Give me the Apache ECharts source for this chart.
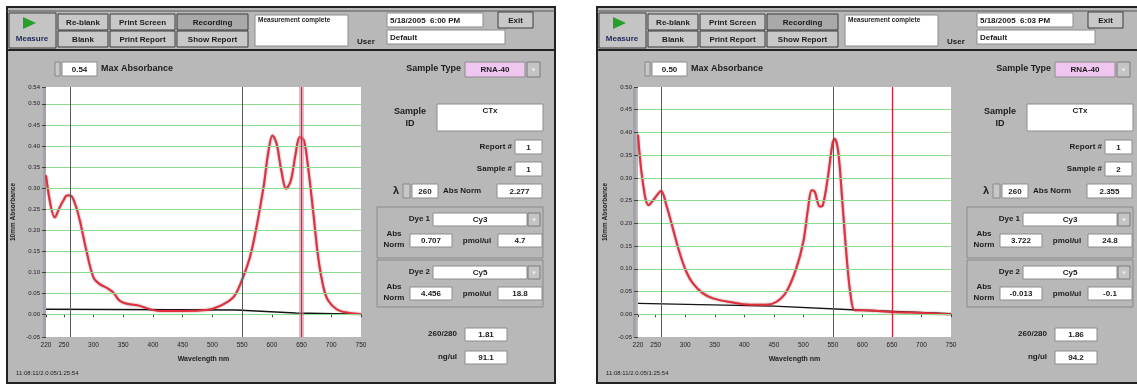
<!DOCTYPE html>
<html>
<head>
<meta charset="utf-8">
<script src="https://cdn.jsdelivr.net/npm/echarts@6/dist/echarts.min.js"></script>
<style>
  html, body { margin: 0; padding: 0; background: #fff; }
  #chart { width: 1137px; height: 384px; }
</style>
</head>
<body>
<div id="chart"></div>
<script>
// spectrum 1 (Cy5 sample)
const wl1 = [220, 235, 243, 250, 255, 261, 269, 277, 288, 300, 311, 322, 333, 344, 356, 378, 395, 412, 451, 490,
  513, 535, 549, 563, 574, 586, 594, 601, 608, 616, 624, 632, 640, 647, 654, 661, 670, 678, 687, 695, 709, 726, 750];
const abs1 = [0.330, 0.230, 0.254, 0.272, 0.282, 0.282, 0.262, 0.222, 0.151, 0.087, 0.071, 0.063, 0.052, 0.032, 0.025, 0.020, 0.012, 0.008, 0.008, 0.010,
  0.020, 0.040, 0.079, 0.135, 0.206, 0.302, 0.385, 0.425, 0.405, 0.341, 0.298, 0.318, 0.381, 0.421, 0.413, 0.349, 0.238, 0.135, 0.063, 0.032, 0.012, 0.004, 0.000];
const baseWl1 = [220, 540, 640, 750];
const baseAbs1 = [0.012, 0.010, 0.003, 0.000];

// spectrum 2 (Cy3 sample)
const wl2 = [220, 228, 238, 248, 259, 268, 279, 290, 302, 313, 330, 347, 375, 409, 437, 454, 471, 488, 500, 508,
  514, 519, 528, 533, 542, 549, 553, 559, 566, 573, 580, 587, 601, 652, 703, 750];
const abs2 = [0.395, 0.292, 0.240, 0.255, 0.271, 0.240, 0.189, 0.137, 0.093, 0.068, 0.046, 0.035, 0.027, 0.021, 0.021, 0.027, 0.049, 0.101, 0.160, 0.233,
  0.273, 0.270, 0.237, 0.240, 0.306, 0.373, 0.386, 0.358, 0.248, 0.130, 0.042, 0.009, 0.009, 0.005, 0.003, 0.000];
const baseWl2 = [220, 450, 600, 750];
const baseAbs2 = [0.024, 0.018, 0.009, 0.001];

// axes
const xTicks = [220, 250, 300, 350, 400, 450, 500, 550, 600, 650, 700, 750];
const yTicks1 = [-0.054, 0, 0.05, 0.10, 0.15, 0.20, 0.25, 0.30, 0.35, 0.40, 0.45, 0.50, 0.54];
const yTicks2 = [-0.05, 0, 0.05, 0.10, 0.15, 0.20, 0.25, 0.30, 0.35, 0.40, 0.45, 0.50];
const markerWl = [260, 550];
const cursorWl = 650;

// readouts for both screens
const screens = [
  { date: '5/18/2005  6:00 PM', maxAbs: '0.54', report: '1', sample: '1', lambda: '260', absNorm: '2.277',
    dye1Abs: '0.707', dye1Pmol: '4.7', dye2Abs: '4.456', dye2Pmol: '18.8', ratio: '1.81', ngul: '91.1', band: true },
  { date: '5/18/2005  6:03 PM', maxAbs: '0.50', report: '1', sample: '2', lambda: '260', absNorm: '2.355',
    dye1Abs: '3.722', dye1Pmol: '24.8', dye2Abs: '-0.013', dye2Pmol: '-0.1', ratio: '1.86', ngul: '94.2', band: false },
];

const FONT = '"Liberation Sans", Arial, sans-serif';
const PANEL_GREY = '#b8b8b8';

const zip = (xs, ys) => xs.map((x, i) => [x, ys[i]]);

function txt(x, y, s, o = {}) {
  return {
    type: 'text', x, y, z: 20,
    style: {
      text: s, fill: o.color || '#1c1c1c',
      font: `${o.bold === false ? '' : 'bold '}${o.size || 8}px ${FONT}`,
      textAlign: o.align || 'left', textVerticalAlign: 'middle',
    },
  };
}

function rect(x, y, w, h, fill, stroke, lw, z) {
  return {
    type: 'rect', z: z == null ? 10 : z,
    shape: { x, y, width: w, height: h },
    style: { fill, stroke: stroke || null, lineWidth: lw || 1 },
  };
}

function button(x, y, w, h, label, fill) {
  return [
    rect(x, y, w, h, fill || '#c8c8c8', '#3c3c3c', 1),
    txt(x + w / 2, y + h / 2 + 0.5, label, { align: 'center', size: 8 }),
  ];
}

function field(x, y, w, h, value, align, fill) {
  const tx = align === 'left' ? x + 3 : x + w / 2;
  return [
    rect(x, y, w, h, fill || '#ffffff', '#8c8c8c', 1),
    txt(tx, y + h / 2 + 0.5, value, { align: align || 'center', size: 8 }),
  ];
}

function dropBtn(x, y, w, h) {
  return [
    rect(x, y, w, h, '#c4c4c4', '#7a7a7a', 1),
    { type: 'polygon', z: 12, shape: { points: [[x + w / 2 - 2, y + h / 2 - 1], [x + w / 2 + 2, y + h / 2 - 1], [x + w / 2, y + h / 2 + 2]] }, style: { fill: '#eee' } },
  ];
}

function panel(ox, s) {
  const g = [];
  // frame
  g.push(rect(ox + 7, 7, 548, 376, PANEL_GREY, '#222', 2, -10));
  g.push({ type: 'line', z: 11, shape: { x1: ox + 7, y1: 50, x2: ox + 555, y2: 50 }, style: { stroke: '#222', lineWidth: 2 } });
  g.push({ type: 'line', z: 11, shape: { x1: ox + 7, y1: 11, x2: ox + 555, y2: 11 }, style: { stroke: '#555', lineWidth: 1 } });

  // toolbar
  g.push(rect(ox + 9, 13, 47, 35, '#c4c4c4', '#3c3c3c', 1));
  g.push({ type: 'polygon', z: 12, shape: { points: [[ox + 23, 17], [ox + 23, 29], [ox + 36, 23]] }, style: { fill: '#27a02a' } });
  g.push(txt(ox + 32, 39, 'Measure', { align: 'center', size: 8, color: '#1e2a5a' }));
  g.push(...button(ox + 58, 14, 50, 16, 'Re-blank'));
  g.push(...button(ox + 58, 31, 50, 16, 'Blank'));
  g.push(...button(ox + 110, 14, 65, 16, 'Print Screen'));
  g.push(...button(ox + 110, 31, 65, 16, 'Print Report'));
  g.push(...button(ox + 177, 14, 71, 16, 'Recording', '#a9a9a9'));
  g.push(...button(ox + 177, 31, 71, 16, 'Show Report'));
  g.push(rect(ox + 255, 15, 93, 31, '#ffffff', '#8c8c8c', 1));
  g.push(txt(ox + 258, 20, 'Measurement complete', { size: 6.5 }));
  g.push(txt(ox + 357, 42, 'User', { size: 8 }));
  g.push(...field(ox + 387, 13, 96, 14, s.date, 'left'));
  g.push(...button(ox + 498, 12, 35, 16, 'Exit'));
  g.push(...field(ox + 387, 30, 118, 14, 'Default', 'left'));

  // max absorbance
  g.push(rect(ox + 55, 62, 5, 14, '#c8c8c8', '#888', 1));
  g.push(...field(ox + 62, 62, 35, 14, s.maxAbs));
  g.push(txt(ox + 101, 69, 'Max Absorbance', { size: 9 }));

  // sample info
  g.push(txt(ox + 461, 69, 'Sample Type', { size: 9, align: 'right' }));
  g.push(...field(ox + 465, 62, 60, 15, 'RNA-40', 'center', '#efc6ef'));
  g.push(...dropBtn(ox + 527, 62, 13, 15));
  g.push(txt(ox + 410, 112, 'Sample', { size: 9, align: 'center' }));
  g.push(txt(ox + 410, 124, 'ID', { size: 9, align: 'center' }));
  g.push(rect(ox + 437, 104, 106, 27, '#ffffff', '#8c8c8c', 1));
  g.push(txt(ox + 490, 111, 'CTx', { size: 8, align: 'center' }));
  g.push(txt(ox + 512, 147, 'Report #', { size: 8, align: 'right' }));
  g.push(...field(ox + 515, 140, 27, 14, s.report));
  g.push(txt(ox + 512, 169, 'Sample #', { size: 8, align: 'right' }));
  g.push(...field(ox + 515, 162, 27, 14, s.sample));
  g.push(txt(ox + 393, 191, 'λ', { size: 11 }));
  g.push(rect(ox + 403, 184, 7, 14, '#c8c8c8', '#888', 1));
  g.push(...field(ox + 412, 184, 26, 14, s.lambda));
  g.push(txt(ox + 443, 191, 'Abs Norm', { size: 8 }));
  g.push(...field(ox + 497, 184, 45, 14, s.absNorm));

  // dye groups
  const dyes = [
    { y: 207, h: 51, name: 'Dye 1', dye: 'Cy3', abs: s.dye1Abs, pmol: s.dye1Pmol },
    { y: 260, h: 47, name: 'Dye 2', dye: 'Cy5', abs: s.dye2Abs, pmol: s.dye2Pmol },
  ];
  dyes.forEach(d => {
    g.push(rect(ox + 377, d.y, 166, d.h, null, '#8a8a8a', 1));
    g.push(txt(ox + 430, d.y + 12, d.name, { size: 8, align: 'right' }));
    g.push(...field(ox + 433, d.y + 6, 94, 13, d.dye));
    g.push(...dropBtn(ox + 528, d.y + 6, 12, 13));
    g.push(txt(ox + 394, d.y + 27, 'Abs', { size: 8, align: 'center' }));
    g.push(txt(ox + 394, d.y + 38, 'Norm', { size: 8, align: 'center' }));
    g.push(...field(ox + 410, d.y + 27, 42, 13, d.abs));
    g.push(txt(ox + 477, d.y + 34, 'pmol/ul', { size: 8, align: 'center' }));
    g.push(...field(ox + 498, d.y + 27, 44, 13, d.pmol));
  });

  g.push(txt(ox + 457, 334, '260/280', { size: 8, align: 'right' }));
  g.push(...field(ox + 465, 328, 42, 13, s.ratio));
  g.push(txt(ox + 457, 357, 'ng/ul', { size: 8, align: 'right' }));
  g.push(...field(ox + 465, 351, 42, 13, s.ngul));

  // plot side strip + timestamp
  g.push(rect(ox + 43, 87, 3, 250, '#a59fb0', null, 1, -5));
  g.push(txt(ox + 16, 373, '11:08:11/2.0.05/1:25:54', { size: 6, bold: false }));
  return g;
}

const grids = [
  { left: 46, top: 87, width: 315, height: 250 },
  { left: 638, top: 87, width: 313, height: 250 },
];
const yTickSets = [yTicks1, yTicks2];

const xAxes = grids.map((_, i) => ({
  type: 'value', gridIndex: i, min: xTicks[0], max: xTicks[xTicks.length - 1],
  name: 'Wavelength nm', nameLocation: 'middle', nameGap: 19,
  nameTextStyle: { fontSize: 7, fontWeight: 'bold', color: '#222', fontFamily: FONT },
  axisLine: { show: false },
  axisTick: { show: true, length: 3, customValues: xTicks, lineStyle: { color: '#444' } },
  axisLabel: { customValues: xTicks, fontSize: 6.5, color: '#222', margin: 5, fontFamily: FONT },
  splitLine: { show: false },
}));

const yAxes = grids.map((_, i) => {
  const ticks = yTickSets[i];
  return {
    type: 'value', gridIndex: i, min: ticks[0], max: ticks[ticks.length - 1],
    name: '10mm Absorbance', nameLocation: 'middle', nameGap: 29, nameRotate: 90,
    nameTextStyle: { fontSize: 6.5, fontWeight: 'bold', color: '#222', fontFamily: FONT },
    axisLine: { show: false },
    axisTick: { show: true, length: 4, customValues: ticks, lineStyle: { color: '#444' } },
    axisLabel: { customValues: ticks, fontSize: 6, color: '#222', margin: 6, fontFamily: FONT,
      formatter: v => v.toFixed(2) },
    splitLine: { show: false },
  };
});

function guideLines(i, band) {
  const ticks = yTickSets[i];
  const green = ticks.slice(1, -1).map(v => ({ yAxis: v, lineStyle: { color: '#8fdc8f', width: 1, type: 'solid' } }));
  const grey = markerWl.map(w => ({ xAxis: w, lineStyle: { color: '#5a5a5a', width: 1, type: 'solid' } }));
  const red = [];
  if (band) red.push({ xAxis: cursorWl, lineStyle: { color: 'rgba(240,110,140,0.55)', width: 5, type: 'solid' } });
  red.push({ xAxis: cursorWl, lineStyle: { color: '#d81e32', width: band ? 1 : 1.3, type: 'solid' } });
  return [...green, ...grey, ...red];
}

const spectra = [zip(wl1, abs1), zip(wl2, abs2)];
const baselines = [zip(baseWl1, baseAbs1), zip(baseWl2, baseAbs2)];

const series = [];
grids.forEach((_, i) => {
  series.push({
    type: 'line', xAxisIndex: i, yAxisIndex: i, data: baselines[i],
    symbol: 'none', silent: true,
    lineStyle: { color: '#141414', width: 1.4 },
    markLine: {
      silent: true, symbol: ['none', 'none'], label: { show: false }, animation: false,
      data: guideLines(i, screens[i].band),
    },
  });
  series.push({
    type: 'line', xAxisIndex: i, yAxisIndex: i, data: spectra[i],
    symbol: 'none', smooth: 0.35, silent: true,
    lineStyle: { color: '#e2303e', width: 2, shadowColor: 'rgba(90,0,10,0.55)', shadowBlur: 2 },
  });
});

const chart = echarts.init(document.getElementById('chart'));
chart.setOption({
  animation: false,
  backgroundColor: '#ffffff',
  grid: grids.map(g => ({ ...g, show: true, backgroundColor: '#ffffff', borderWidth: 0 })),
  xAxis: xAxes,
  yAxis: yAxes,
  series,
  graphic: { elements: [...panel(0, screens[0]), ...panel(590, screens[1])] },
});
</script>
</body>
</html>
